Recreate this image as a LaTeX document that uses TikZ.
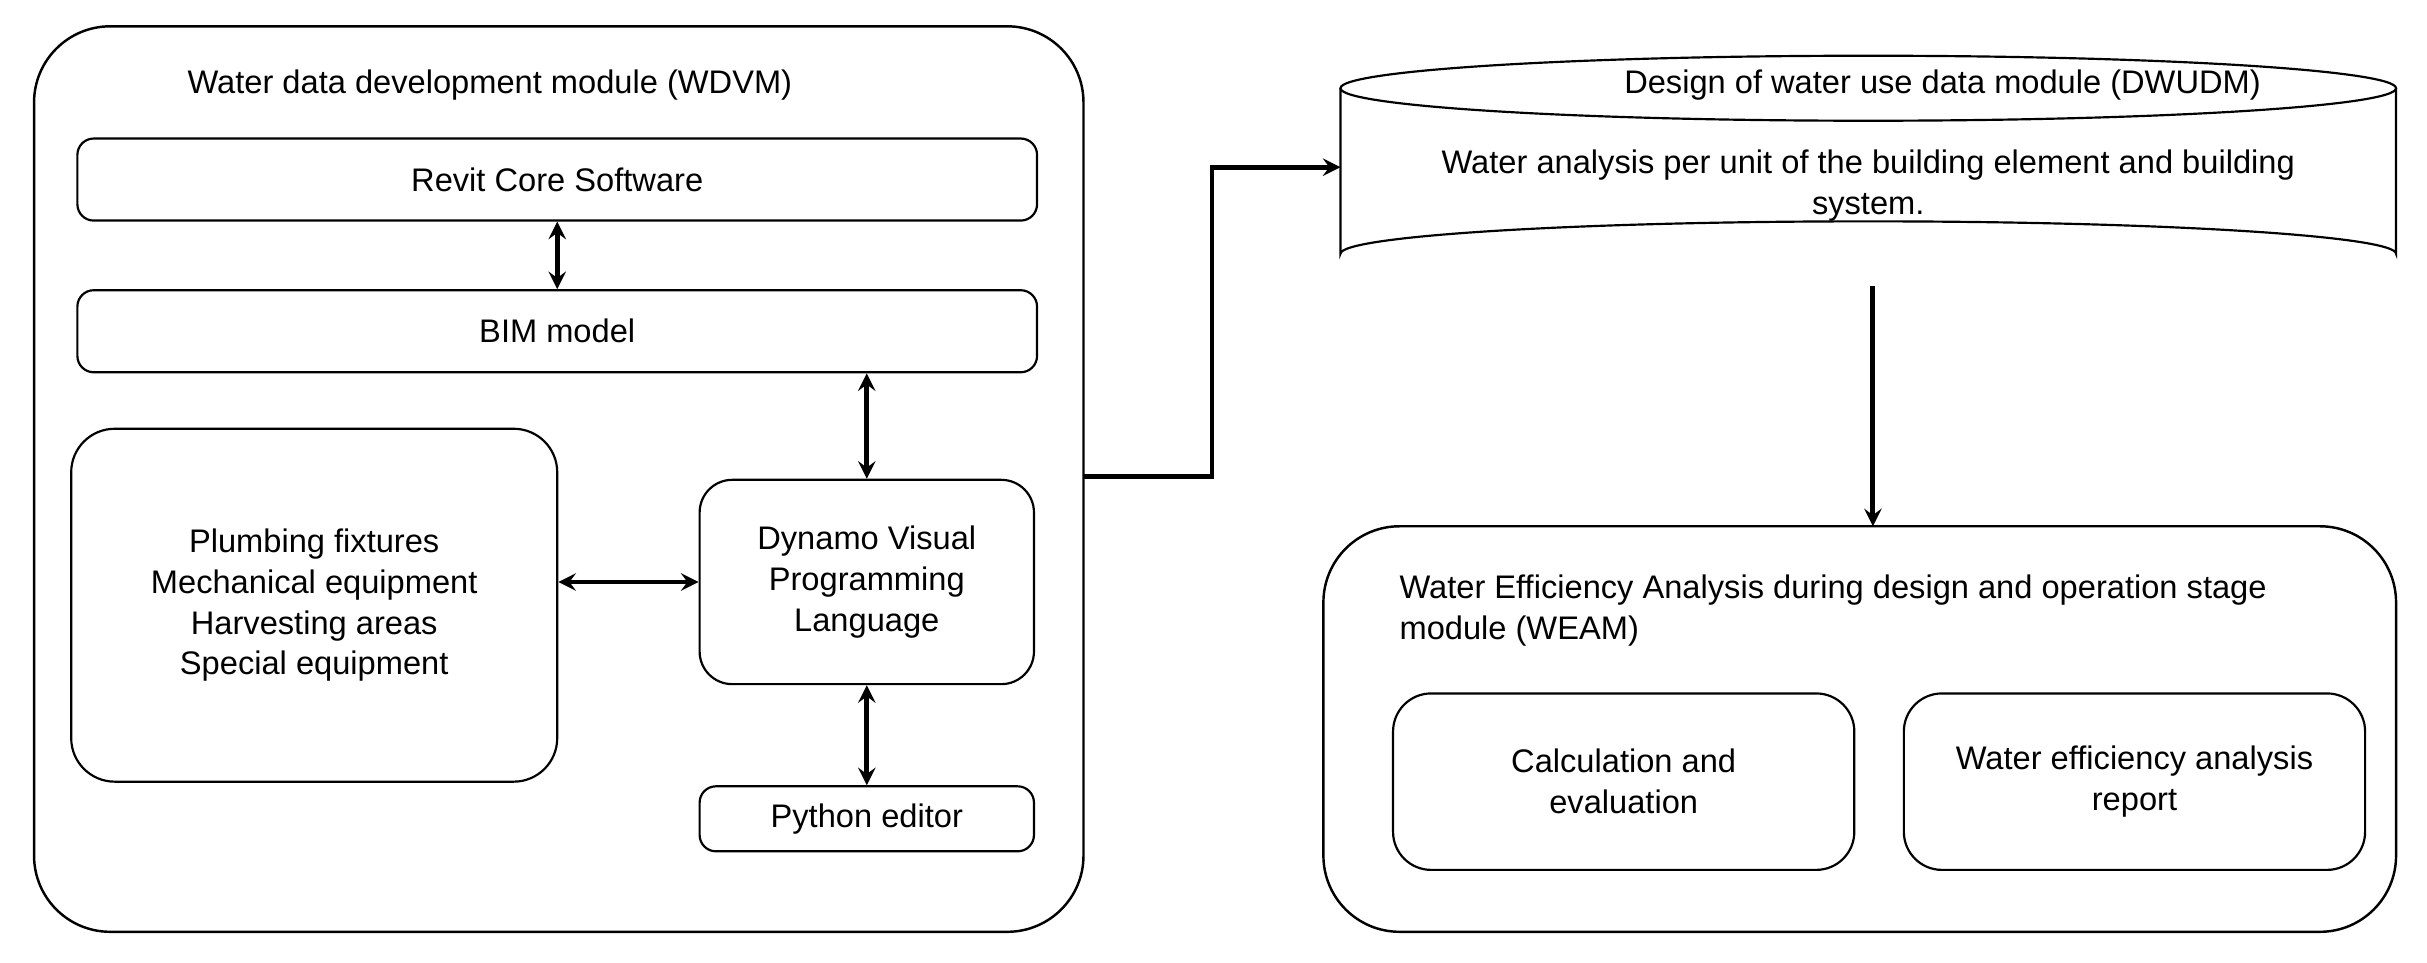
\documentclass[tikz,border=0pt]{standalone}
\usepackage{fontspec}
\setmainfont{Liberation Sans}
\usetikzlibrary{positioning}
\begin{document}
\begin{tikzpicture}[x=0.02cm,y=-0.02cm,
  box/.style={draw,rounded corners=6pt,line width=0.8pt,align=center},
  big/.style={draw,rounded corners=28pt,line width=0.9pt},
  lnk/.style={line width=1.8pt,<->,>=stealth},
  arr/.style={line width=1.8pt,->,>=stealth},
  every node/.style={font=\fontsize{12}{15}\selectfont}]
\useasboundingbox (0,0) rectangle (1568,622);
% WDVM
\draw[big] (22,17) rectangle (700,602);
\node[anchor=west] (wdvmt) at (115,55) {Water data development module (WDVM)};
\node[box,minimum width=620*0.02cm,minimum height=53*0.02cm] (revit) at (360,116) {Revit Core Software};
\node[box,minimum width=620*0.02cm,minimum height=53*0.02cm] (bim) at (360,214) {BIM model};
\node[box,rounded corners=16pt,minimum width=314*0.02cm,minimum height=228*0.02cm] (items) at (203,391)
  {Plumbing fixtures\\Mechanical equipment\\Harvesting areas\\Special equipment};
\node[box,rounded corners=12pt,minimum width=216*0.02cm,minimum height=132*0.02cm] (dyn) at (560,376)
  {Dynamo Visual\\Programming\\Language};
\node[box,minimum width=216*0.02cm,minimum height=42*0.02cm] (py) at (560,529) {Python editor};
\draw[lnk] (revit.south) -- (bim.north);
\draw[lnk] (bim.south -| dyn.north) -- (dyn.north);
\draw[lnk] (items.east |- dyn.west) -- (dyn.west);
\draw[lnk] (dyn.south) -- (py.north);
% DWUDM cylinder
\draw[line width=0.8pt] (866,57) -- (866,164) arc[start angle=180,end angle=360,x radius=341,y radius=21] -- (1548,57);
\draw[line width=0.8pt] (1207,57) ellipse[x radius=341,y radius=21];
\coordinate (cylw) at (866,108);
\coordinate (cyls) at (1210,185);
\node (dwt) at (1255,55) {Design of water use data module (DWUDM)};
\node[align=center] (dwx) at (1207,120) {Water analysis per unit of the building element and building\\system.};
\coordinate (wdvme) at (700,308);
\draw[arr] (wdvme) -- (783,308) -- (783,108) -- (cylw);
% WEAM
\draw[big] (855,340) rectangle (1548,602);
\coordinate (weamn) at (1210,340);
\draw[arr] (cyls) -- (weamn);
\node[anchor=north west,align=left] (weamt) at (898,365)
  {Water Efficiency Analysis during design and operation stage\\module (WEAM)};
\node[box,rounded corners=14pt,minimum width=298*0.02cm,minimum height=114*0.02cm] (calc) at (1049,505)
  {Calculation and\\evaluation};
\node[box,rounded corners=14pt,minimum width=298*0.02cm,minimum height=114*0.02cm] (rep) at (1379,505)
  {Water efficiency analysis\\report};
\end{tikzpicture}
\end{document}
